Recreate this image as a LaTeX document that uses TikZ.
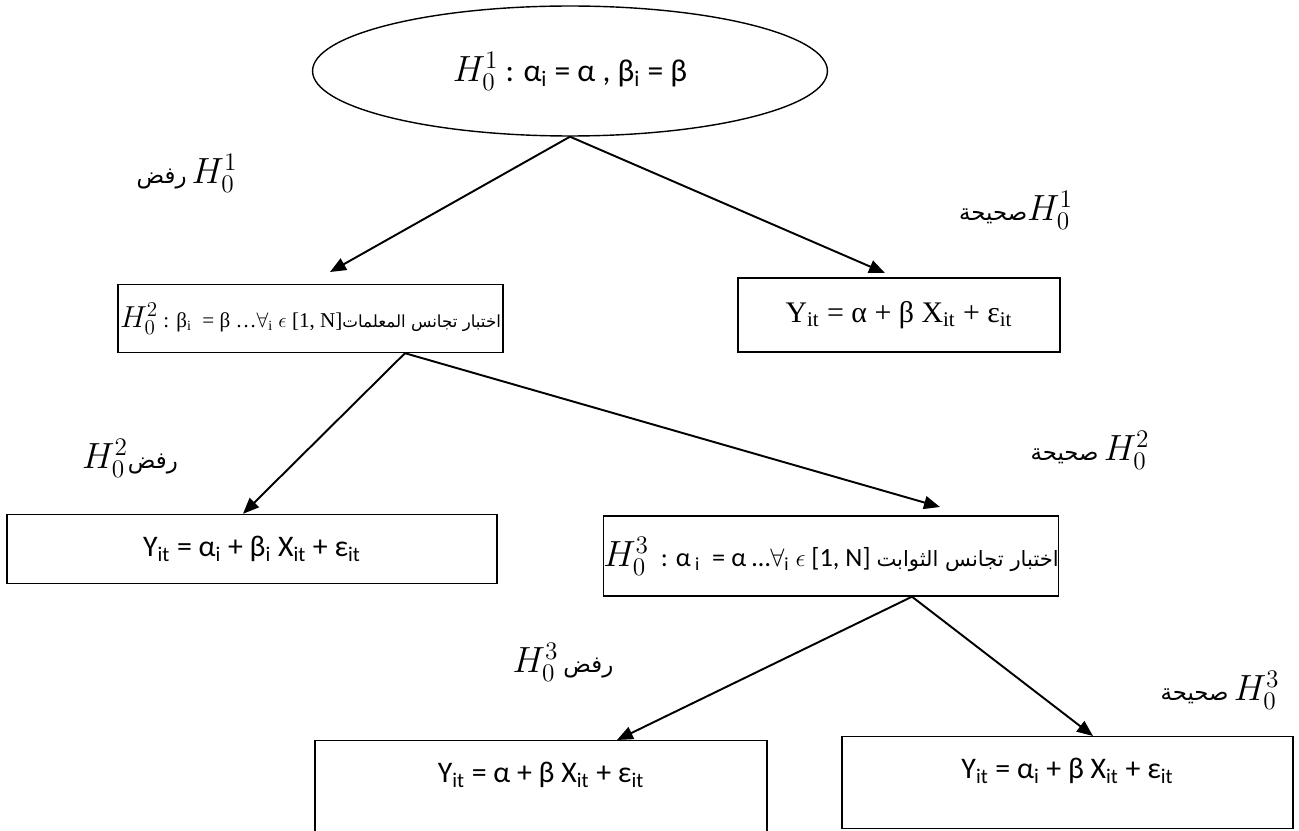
\documentclass[tikz,border=0pt]{standalone}
\usepackage{fontspec}
\setmainfont{Carlito}
\newfontfamily\tnr{Liberation Serif}
\newfontfamily\arabicfont[Script=Arabic]{DejaVu Sans}
\TeXXeTstate=1
\usetikzlibrary{shapes.geometric,arrows.meta}
\newcommand{\ix}[1]{\textsubscript{#1}}
\newcommand{\arb}[1]{{\arabicfont\beginR #1\endR}}
\newcommand{\hyp}[1]{{\fontsize{21}{24}\selectfont$H_0^{#1}$}}

\begin{document}
\begin{tikzpicture}[x=0.02cm, y=-0.02cm,
    box/.style={draw, line width=0.8pt, rectangle, inner sep=0pt, font=\fontsize{17}{20}\selectfont},
    lbl/.style={inner sep=0pt, font=\fontsize{13}{16}\selectfont},
    arr/.style={-{Triangle[length=0.32cm, width=0.26cm]}, line width=1.1pt}]
    \useasboundingbox (0,0) rectangle (1299,831);

    % hipotesis de partida
    \node[ellipse, draw, line width=0.8pt, inner sep=0pt, minimum width=10.3cm, minimum height=2.6cm,
        font=\fontsize{18}{21}\selectfont] (top) at (570,71) {\hyp{1} : α\ix{i} = α , β\ix{i} = β};

    % segundo nivel
    \node[box, minimum width=7.7cm, minimum height=1.36cm] (testb) at (310.5,318.5)
        {{\tnr\fontsize{12}{15}\selectfont{\fontsize{18}{21}\selectfont$H_0^2$} : β\ix{i} \ = β \dots$\forall$\ix{i} $\epsilon$ [1, N]}{\fontsize{9.5}{12}\selectfont\arb{اختبار تجانس المعلمات}}};
    \node[box, minimum width=6.44cm, minimum height=1.48cm, font=\tnr\fontsize{17}{20}\selectfont] (pool) at (899,315)
        {Y\ix{it} = α + β X\ix{it} + ε\ix{it}};

    % tercer nivel
    \node[box, minimum width=9.8cm, minimum height=1.38cm] (indiv) at (252,549)
        {Y\ix{it} = α\ix{i} + β\ix{i} X\ix{it} + ε\ix{it}};
    \node[box, minimum width=8.76cm, minimum height=1.6cm, font=\fontsize{15}{18}\selectfont] (testa) at (831,556)
        {\hyp{3} \ : α\,\ix{i} \ = α \dots$\forall$\ix{i} $\epsilon$ [1, N] {\fontsize{12}{15}\selectfont\arb{اختبار تجانس الثوابت}}};

    % cuarto nivel (texto arriba)
    \node[box, anchor=north, minimum width=9.04cm, text height=0.84cm, text depth=1.4cm] (common) at (541,740)
        {Y\ix{it} = α + β X\ix{it} + ε\ix{it}};
    \node[box, anchor=north, minimum width=9.02cm, text height=0.84cm, text depth=1.0cm] (fixed) at (1067.5,736)
        {Y\ix{it} = α\ix{i} + β X\ix{it} + ε\ix{it}};

    % puntas libres de las flechas
    \coordinate (t1) at (330,272);
    \coordinate (t2) at (885,273);
    \coordinate (t4) at (940,507);

    \draw[arr] (top.south) -- (t1);
    \draw[arr] (top.south) -- (t2);
    \draw[arr] ([xshift=1.89cm]testb.south) -- ([xshift=-0.18cm]indiv.north);
    \draw[arr] ([xshift=1.89cm]testb.south) -- (t4);
    \draw[arr] ([xshift=1.62cm]testa.south) -- ([xshift=1.52cm]common.north);
    \draw[arr] ([xshift=1.62cm]testa.south) -- ([xshift=0.51cm]fixed.north);

    % etiquetas de decision
    \node[lbl] (rej1) at (187,173) {\arb{رفض} \hyp{1}};
    \node[lbl] (acc1) at (1016,210) {\arb{صحيحة}\hyp{1}};
    \node[lbl] (rej2) at (130,458) {\hyp{2}\arb{رفض}};
    \node[lbl] (acc2) at (1090,450) {\arb{صحيحة} \hyp{2}};
    \node[lbl] (rej3) at (563,662) {\hyp{3} \arb{رفض}};
    \node[lbl] (acc3) at (1220,690) {\arb{صحيحة} \hyp{3}};
\end{tikzpicture}
\end{document}
